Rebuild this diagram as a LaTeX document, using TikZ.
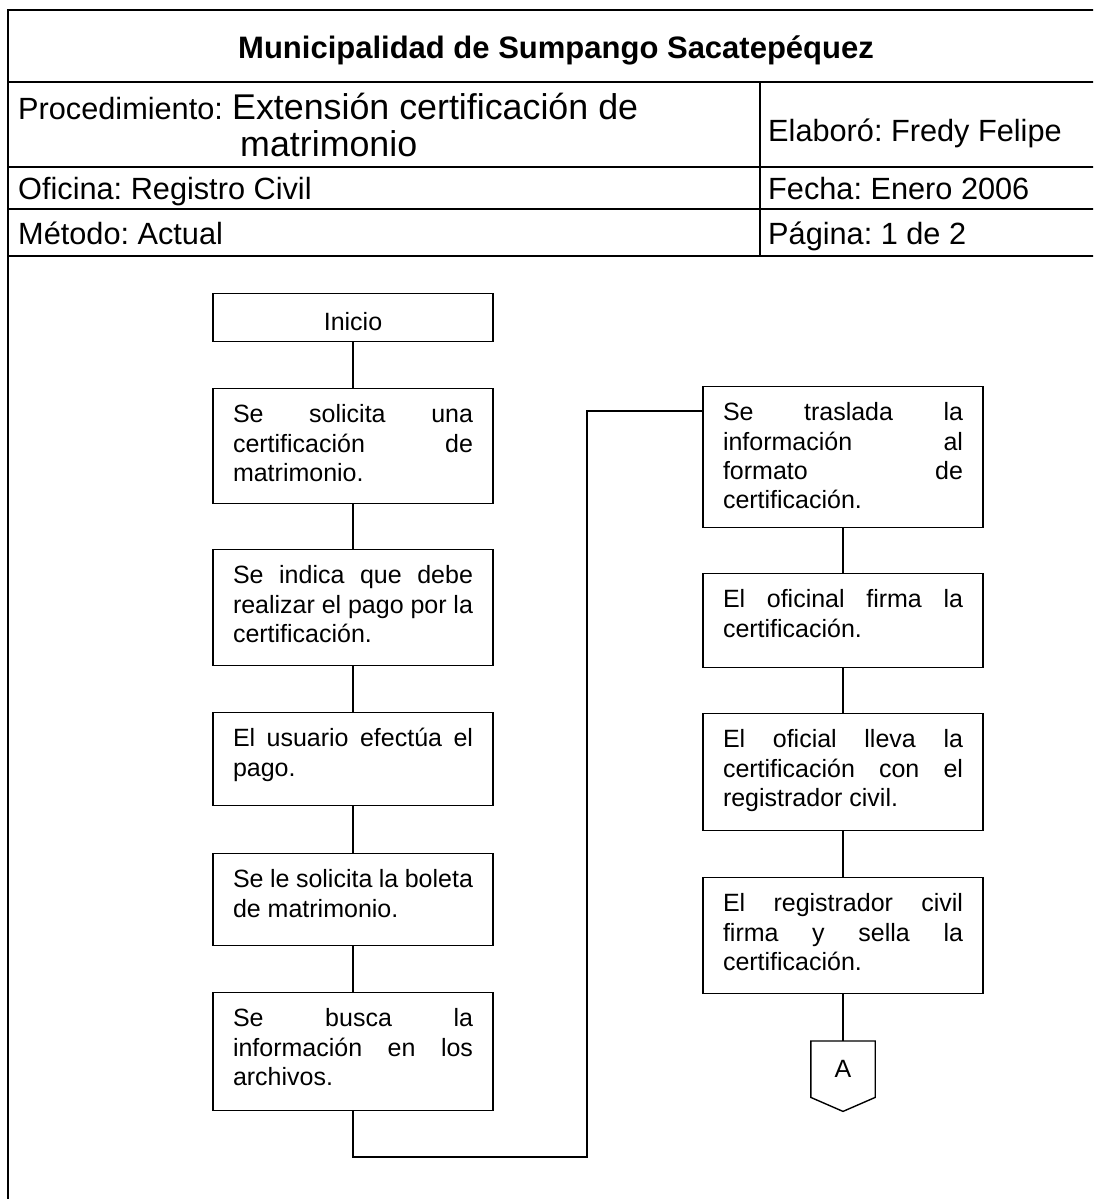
\documentclass[tikz,border=0pt]{standalone}
\usepackage{fontspec}
\setmainfont{Liberation Sans}
\frenchspacing
% body of a process box: fixed height, text hanging from the top
\newcommand\boxbody[2]{\parbox[c][#1][t]{240pt}{\rule{0pt}{34pt}#2}}
% one justified line of a process box
\newcommand\jl[1]{\makebox[240pt][s]{#1}\\}
\begin{document}
\begin{tikzpicture}[x=1pt,y=-1pt,
  frameline/.style={line width=2.2pt},
  flowline/.style={line width=1.4pt},
  headtext/.style={inner sep=0pt, anchor=base west, font=\fontsize{30.7}{35}\selectfont},
  stepbox/.style={draw, line width=1.4pt, inner sep=0pt, minimum width=280pt,
    anchor=north, font=\fontsize{25}{29.4}\selectfont},
]
\clip (0,0) rectangle (1093,1199);
\fill[white] (0,0) rectangle (1093,1199);

% ---- heading table ----
\draw[frameline] (8,1210) -- (8,10) -- (1100,10);
\draw[frameline] (8,82) -- (1100,82);
\draw[frameline] (8,167) -- (1100,167);
\draw[frameline] (8,209) -- (1100,209);
\draw[frameline] (8,256) -- (1100,256);
\draw[frameline] (760,82) -- (760,256);

\node[inner sep=0pt, anchor=base, font=\fontsize{31}{35}\selectfont\bfseries] (title) at (556,59)
  {Municipalidad de Sumpango Sacatepéquez};
\node[headtext] (proc) at (18,119) {Procedimiento:};
\node[headtext, font=\fontsize{35.8}{40}\selectfont] (procname) at (232,119) {Extensión certificación de};
\node[headtext, font=\fontsize{35.8}{40}\selectfont] (procname2) at (240,156) {matrimonio};
\node[headtext] (author) at (768,141) {Elaboró: Fredy Felipe};
\node[headtext] (office) at (18,199) {Oficina: Registro Civil};
\node[headtext] (date) at (768,199) {Fecha: Enero 2006};
\node[headtext] (method) at (18,244) {Método: Actual};
\node[headtext] (page) at (768,244) {Página: 1 de 2};

% ---- left column ----
\node[stepbox] (start) at (353,293)
  {\parbox[c][48pt][t]{240pt}{\centering\rule{0pt}{37pt}Inicio}};
\node[stepbox] (s1) at (353,388) {\boxbody{115pt}{%
  \jl{Se solicita una}\jl{certificación de}matrimonio.}};
\node[stepbox] (s2) at (353,549) {\boxbody{116pt}{%
  \jl{Se indica que debe}\jl{realizar el pago por la}certificación.}};
\node[stepbox] (s3) at (353,712) {\boxbody{93pt}{%
  \jl{El usuario efectúa el}pago.}};
\node[stepbox] (s4) at (353,853) {\boxbody{92pt}{%
  \jl{Se le solicita la boleta}de matrimonio.}};
\node[stepbox] (s5) at (353,992) {\boxbody{118pt}{%
  \jl{Se busca la}\jl{información en los}archivos.}};

% ---- right column ----
\node[stepbox] (s6) at (843,386) {\boxbody{141pt}{%
  \jl{Se traslada la}\jl{información al}\jl{formato de}certificación.}};
\node[stepbox] (s7) at (843,573) {\boxbody{94pt}{%
  \jl{El oficinal firma la}certificación.}};
\node[stepbox] (s8) at (843,713) {\boxbody{117pt}{%
  \jl{El oficial lleva la}\jl{certificación con el}registrador civil.}};
\node[stepbox] (s9) at (843,877) {\boxbody{116pt}{%
  \jl{El registrador civil}\jl{firma y sella la}certificación.}};

% off-page connector
\node[inner sep=0pt, minimum width=64pt, minimum height=56pt, anchor=north,
  font=\fontsize{25}{29.4}\selectfont] (offpage) at (843,1041) {A};
\draw[flowline, line join=miter]
  (offpage.north west) -- (offpage.north east) -- (offpage.south east)
  -- ([yshift=-14pt]offpage.south) -- (offpage.south west) -- cycle;

% ---- connectors ----
\coordinate (jog) at (587,1157);
\draw[flowline] (start) -- (s1);
\draw[flowline] (s1) -- (s2);
\draw[flowline] (s2) -- (s3);
\draw[flowline] (s3) -- (s4);
\draw[flowline] (s4) -- (s5);
\draw[flowline] (s5.south) |- (jog) |- ([yshift=-25pt]s6.north west);
\draw[flowline] (s6) -- (s7);
\draw[flowline] (s7) -- (s8);
\draw[flowline] (s8) -- (s9);
\draw[flowline] (s9) -- (offpage);
\end{tikzpicture}
\end{document}
